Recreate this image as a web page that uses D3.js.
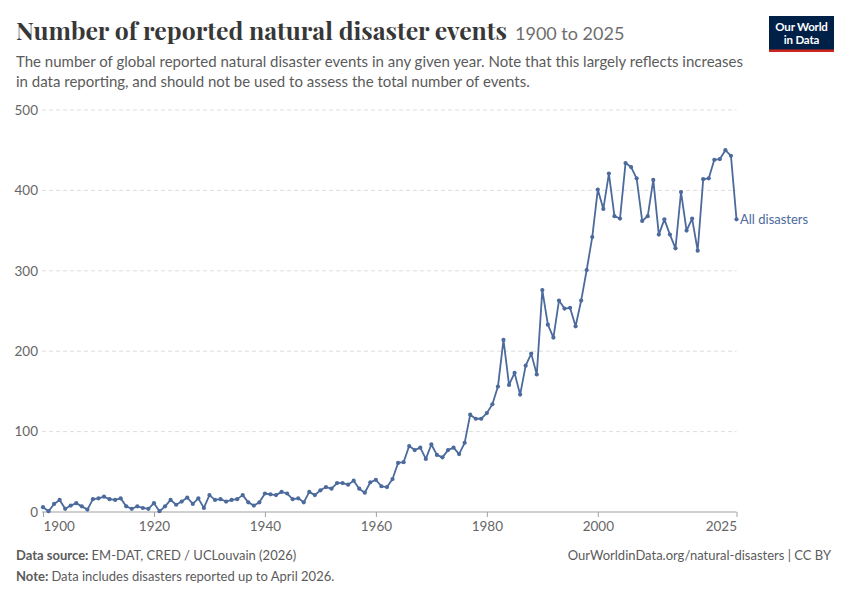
<!DOCTYPE html>
<html><head><meta charset="utf-8">
<script src="https://cdn.jsdelivr.net/npm/d3@7"></script>
<style>
body{margin:0;background:#fff;}
svg{display:block;}
text{font-family:Lato,"Noto Sans",sans-serif;}
</style></head>
<body>
<svg id="chart" width="850" height="600"></svg>
<script>
const years = d3.range(1900, 2026);
const disasters = [
 6,1,10,15,4,8,11,7,3,16,
 17,19,16,15,17,7,4,7,5,4,
 11,1,7,15,9,13,18,10,17,5,
 21,15,16,13,15,16,21,12,8,12,
 23,22,21,25,23,16,17,12,25,21,
 27,31,29,36,36,34,39,29,24,37,
 40,32,31,41,61,62,82,77,80,66,
 84,71,68,77,80,72,86,121,116,116,
 123,134,156,214,158,173,146,182,197,171,
 276,233,217,263,253,254,231,263,301,342,
 401,377,421,368,365,434,429,415,362,368,
 413,345,364,345,328,398,350,365,325,414,
 415,438,439,450,443,364
];
const xTicks = [1900,1920,1940,1960,1980,2000,2025];
const yTicks = [0,100,200,300,400,500];
const seriesName = "All disasters";

const svg = d3.select("#chart");
const x = d3.scaleLinear().domain([1900,2025]).range([43,736.5]);
const y = d3.scaleLinear().domain([0,500]).range([512,110]);
const blue = "#4c6a9c";

// Title
const title = svg.append("text").attr("x",16).attr("y",40)
  .style("font-family","'Playfair Display','DejaVu Serif','Liberation Serif',serif")
  .style("font-weight","700").style("font-size","25px").attr("fill","#373737")
  .text("Number of reported natural disaster events");
title.attr("textLength",491).attr("lengthAdjust","spacingAndGlyphs");
svg.append("text").attr("x",515).attr("y",40)
  .style("font-size","18px").attr("fill","#6e6e6e").text("1900 to 2025");

// Subtitle
const sub = ["The number of global reported natural disaster events in any given year. Note that this largely reflects increases",
             "in data reporting, and should not be used to assess the total number of events."];
sub.forEach((s,i)=>{
  svg.append("text").attr("x",16).attr("y",67+i*19.5).style("font-size","15px")
    .attr("fill","#5b5b5b").text(s);
});

// Logo
const logo = svg.append("g");
logo.append("rect").attr("x",769).attr("y",16).attr("width",65).attr("height",34).attr("fill","#002147");
logo.append("rect").attr("x",769).attr("y",49.5).attr("width",65).attr("height",2.5).attr("fill","#ce261e");
logo.append("text").attr("x",801.5).attr("y",30.5).attr("text-anchor","middle").attr("fill","#fff")
  .style("font-size","11.5px").style("font-weight","700").style("letter-spacing","-0.2px").text("Our World");
logo.append("text").attr("x",801.5).attr("y",44).attr("text-anchor","middle").attr("fill","#fff")
  .style("font-size","11.5px").style("font-weight","700").style("letter-spacing","-0.2px").text("in Data");

// Grid lines
svg.append("g").selectAll("line").data(yTicks.filter(d=>d>0)).join("line")
  .attr("x1",42).attr("x2",736.5).attr("y1",d=>y(d)).attr("y2",d=>y(d))
  .attr("stroke","#dddddd").attr("stroke-dasharray","4,3").attr("stroke-width",1);

// Y labels
svg.append("g").selectAll("text").data(yTicks).join("text")
  .attr("x",38).attr("y",d=>y(d)).attr("dy","0.35em").attr("text-anchor","end")
  .style("font-size","13.5px").attr("fill","#666").text(d=>d);

// X axis
const xAxis = d3.axisBottom(x).tickValues(xTicks).tickFormat(d3.format("d")).tickSize(5).tickSizeOuter(0);
const gx = svg.append("g").attr("transform","translate(0,512)").call(xAxis);
gx.select(".domain").attr("stroke","#a1a1a1").attr("d","M42,0H736.5");
gx.selectAll(".tick line").attr("stroke","#a1a1a1");
gx.selectAll(".tick text").attr("fill","#666").style("font-size","13.5px")
  .style("font-family","Lato,'Noto Sans',sans-serif").attr("y",9).attr("dy","0.71em")
  .attr("text-anchor",(d,i)=> i===0 ? "start" : (i===xTicks.length-1 ? "end" : "middle"));

// Line
const data = years.map((yr,i)=>({year:yr,value:disasters[i]}));
svg.append("path").datum(data)
  .attr("d",d3.line().x(d=>x(d.year)).y(d=>y(d.value)))
  .attr("fill","none").attr("stroke",blue).attr("stroke-width",1.8).attr("stroke-linejoin","round");
svg.append("g").selectAll("circle").data(data).join("circle")
  .attr("cx",d=>x(d.year)).attr("cy",d=>y(d.value)).attr("r",2.1).attr("fill",blue);

// Series label
const last = data[data.length-1];
svg.append("text").attr("x",740).attr("y",y(last.value)).attr("dy","0.35em")
  .style("font-size","13px").attr("fill",blue).text(seriesName);

// Footer
const f1 = svg.append("text").attr("x",16).attr("y",560).style("font-size","13px").attr("fill","#5b5b5b");
f1.append("tspan").style("font-weight","700").text("Data source: ");
f1.append("tspan").text("EM-DAT, CRED / UCLouvain (2026)");
const f2 = svg.append("text").attr("x",16).attr("y",581).style("font-size","13px").attr("fill","#5b5b5b");
f2.append("tspan").style("font-weight","700").text("Note: ");
f2.append("tspan").text("Data includes disasters reported up to April 2026.");
svg.append("text").attr("x",831).attr("y",560).attr("text-anchor","end").style("font-size","13px")
  .attr("fill","#5b5b5b").text("OurWorldinData.org/natural-disasters | CC BY");
</script>
</body></html>
